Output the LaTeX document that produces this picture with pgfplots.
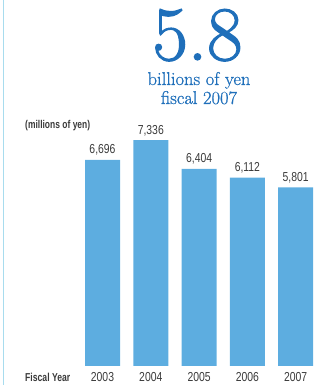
\documentclass[border=0pt]{standalone}
\usepackage{pgfplots}
\pgfplotsset{compat=1.18}
\usepackage{fontspec}
\newfontfamily\cond[FakeStretch=0.8]{Liberation Sans}
\newfontfamily\condb[FakeStretch=0.75]{Liberation Sans Bold}
\newfontfamily\bigfont[FakeBold=1.6]{Latin Modern Roman}
\newfontfamily\subfont[FakeBold=0.9]{Latin Modern Roman}
\definecolor{barblue}{HTML}{5DADE0}
\definecolor{titleblue}{HTML}{1F6FBA}
\definecolor{txt}{HTML}{3A3A3A}
\definecolor{edge}{HTML}{A8DCEE}
\begin{document}
\begin{tikzpicture}[x=1pt,y=1pt]
\path[use as bounding box] (0,0) rectangle (322,385);
\draw[edge, line width=1.5pt] (3.5,0) -- (3.5,385);
\begin{axis}[
  at={(78.35pt,19pt)}, anchor=south west,
  scale only axis, width=241.5pt, height=246.4pt,
  xmin=-0.5, xmax=4.5, ymin=0, ymax=8000,
  axis line style={draw=none},
  major tick length=0pt,
  ytick=\empty,
  xtick=data,
  xticklabels={2003,2004,2005,2006,2007},
  xticklabel style={anchor=base, yshift=-15pt, font=\cond\fontsize{13}{13}\selectfont, text=txt},
  ybar, bar width=35pt,
  clip=false,
  nodes near coords,
  point meta=explicit symbolic,
  every node near coord/.append style={anchor=base, yshift=6pt, font=\cond\fontsize{13}{13}\selectfont, text=txt},
]
\addplot[fill=barblue, draw=none] table[meta=label] {
x y label
0 6696 6,696
1 7336 7,336
2 6404 6,404
3 6112 6,112
4 5801 5,801
};
\end{axis}
\node[anchor=base west, text=txt, font=\condb\fontsize{11.5}{11.5}\selectfont, inner sep=0] at (25,4) {Fiscal Year};
\node[anchor=base west, text=txt, font=\condb\fontsize{11.3}{11.3}\selectfont, inner sep=0] at (25,256) {(millions of yen)};
\node[anchor=base, text=titleblue, font=\bigfont\fontsize{77}{77}\selectfont, inner sep=0, text depth=0pt, text height=52pt] at (197.5,325) {5.8};
\node[anchor=base, text=titleblue, font=\subfont\fontsize{18.5}{18.5}\selectfont, inner sep=0, text height=13pt] at (199,300) {billions of yen};
\node[anchor=base, text=titleblue, font=\subfont\fontsize{18.5}{18.5}\selectfont, inner sep=0] at (199,281) {fiscal 2007};
\end{tikzpicture}
\end{document}
